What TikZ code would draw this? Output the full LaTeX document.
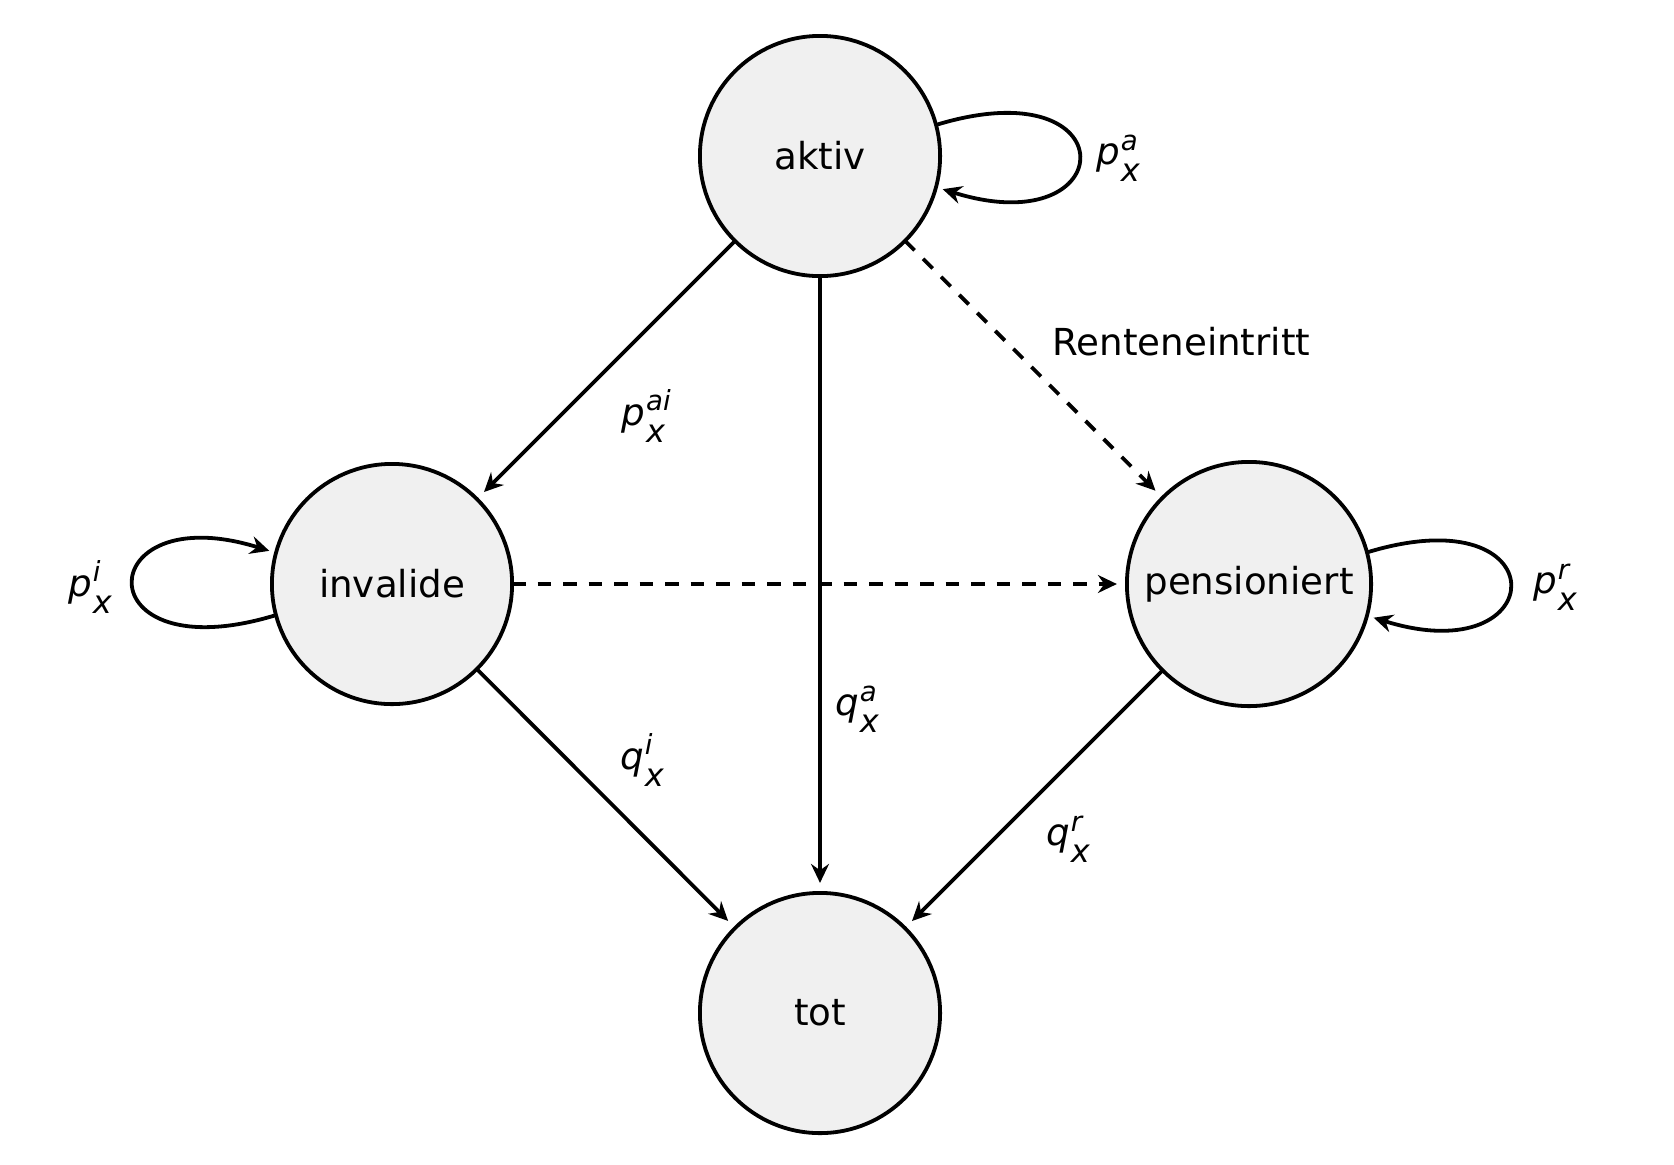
\documentclass[tikz,border=0pt]{standalone}
\usepackage{fontspec}
\setmainfont{DejaVu Sans}
\usetikzlibrary{arrows.meta}
\definecolor{nodefill}{RGB}{240,240,240}
\newcommand{\pxlab}[3]{{\itshape #1\kern0.6pt\sbox0{\fontsize{13.8}{16}\selectfont #2}\sbox2{\fontsize{16}{18}\selectfont #3}\rlap{\raisebox{7.3pt}{\usebox0}}\raisebox{-8.3pt}{\usebox2}\ifdim\wd0>\wd2 \kern\dimexpr\wd0-\wd2\relax\fi}}
\begin{document}
\begin{tikzpicture}[x=0.5pt,y=-0.5pt,
  state/.style={circle,draw=black,fill=nodefill,line width=1.9pt,minimum size=120.1pt,inner sep=0pt,outer sep=0pt,font=\fontsize{18.6}{22}\selectfont},
  lbl/.style={inner sep=0pt,font=\fontsize{18.6}{22}\selectfont},
  tip/.style={-{Stealth[length=9.5pt,width=9pt,inset=3.2pt]}},
  trans/.style={line width=1.9pt,tip,shorten >=5pt},
  dsh/.style={trans,dash pattern=on 6.75pt off 6pt},
  selfloop/.style={line width=1.9pt,tip,shorten >=3.5pt}]
\useasboundingbox (0,0) rectangle (1674,1164);
\node[state] (aktiv) at (820,156) {aktiv};
\node[state] (inv) at (392,584) {invalide};
\node[state,minimum size=122.1pt] (pens) at (1249,584) {pensioniert};
\node[state] (tot) at (820,1013) {tot};
\draw[trans] (aktiv) -- (inv);
\draw[trans] (aktiv) -- (tot);
\draw[dsh] (aktiv) -- (pens);
\draw[dsh] (inv) -- (pens);
\draw[trans] (inv) -- (tot);
\draw[trans] (pens) -- (tot);
\draw[selfloop] (aktiv.15) .. controls +(193,-59) and +(186,58) .. (aktiv.-15);
\draw[selfloop] (inv.195) .. controls +(-193,59) and +(-186,-58) .. (inv.165);
\draw[selfloop] (pens.15) .. controls +(193,-59) and +(186,58) .. (pens.-15);
\node[lbl] (la) at (1118,158) {\pxlab{p}{a}{x}};
\node[lbl] (li) at (90,587) {\pxlab{p}{i}{x}};
\node[lbl] (lr) at (1555,587) {\pxlab{p}{r}{x}};
\node[lbl] (lai) at (646,416) {\pxlab{p}{ai}{x}};
\node[lbl,anchor=west] (rent) at (1052,342) {Renteneintritt};
\node[lbl] (lqa) at (857,709) {\pxlab{q}{a}{x}};
\node[lbl] (lqi) at (642,760) {\pxlab{q}{i}{x}};
\node[lbl] (lqr) at (1068,839) {\pxlab{q}{r}{x}};
\end{tikzpicture}
\end{document}
